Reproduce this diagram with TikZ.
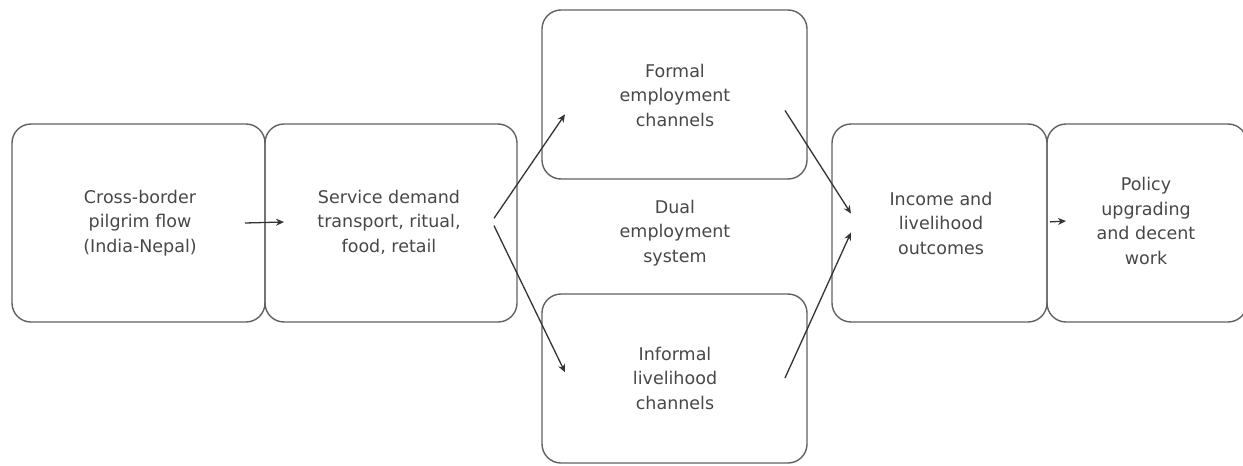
\documentclass[tikz,border=0pt]{standalone}
\usepackage{fontspec}
\setmainfont{DejaVu Sans}
\usetikzlibrary{arrows.meta}

\tikzset{
  frame/.style={draw=black!62, line width=1.4pt, rounded corners=19pt,
    inner sep=0pt, outer sep=0pt},
  label/.style={text=black!72, align=center, inner sep=0pt, outer sep=0pt,
    font=\fontsize{17.5pt}{24.5pt}\selectfont},
  flow/.style={draw=black!80, line width=1.3pt,
    -{Stealth[length=8pt,width=7pt]}}
}

\begin{document}
\begin{tikzpicture}[x=1pt, y=-1pt]
  \useasboundingbox (0,0) rectangle (1243,466);

  % rounded frames
  \node[frame, minimum width=253pt, minimum height=198pt] (b1)  at (138.5,223) {};
  \node[frame, minimum width=252pt, minimum height=198pt] (b2)  at (391,223) {};
  \node[frame, minimum width=265pt, minimum height=169pt] (bf)  at (674.5,94.5) {};
  \node[frame, minimum width=265pt, minimum height=169pt] (bi)  at (674.5,378.5) {};
  \node[frame, minimum width=215pt, minimum height=198pt] (bin) at (939.5,223) {};
  \node[frame, minimum width=200pt, minimum height=198pt] (bp)  at (1147,223) {};

  % texts
  \node[label, minimum width=210pt] (t1)  at (140,223) {Cross-border\\pilgrim flow\\(India-Nepal)};
  \node[label, minimum width=210pt] (t2)  at (389,222) {Service demand\\transport, ritual,\\food, retail};
  \node[label, minimum width=220pt] (tf)  at (675,95)  {Formal\\employment\\channels};
  \node[label] (td) at (675,233) {Dual\\employment\\system};
  \node[label, minimum width=220pt] (ti)  at (675,378) {Informal\\livelihood\\channels};
  \node[label, minimum width=180pt] (tin) at (941,223) {Income and\\livelihood\\outcomes};
  \node[label, minimum width=160pt] (tp)  at (1146,221) {Policy\\upgrading\\and decent\\work};

  % connectors
  \draw[flow] (t1.east) -- (t2.west);
  \draw[flow] (t2.2) -- (tf.190);
  \draw[flow] (t2.358) -- (ti.177);
  \draw[flow] (tf.352) -- (tin.174);
  \draw[flow] (ti.east) -- (tin.186);
  \draw[flow, shorten <=19pt] (tin.east) -- (tp.west);
\end{tikzpicture}
\end{document}
